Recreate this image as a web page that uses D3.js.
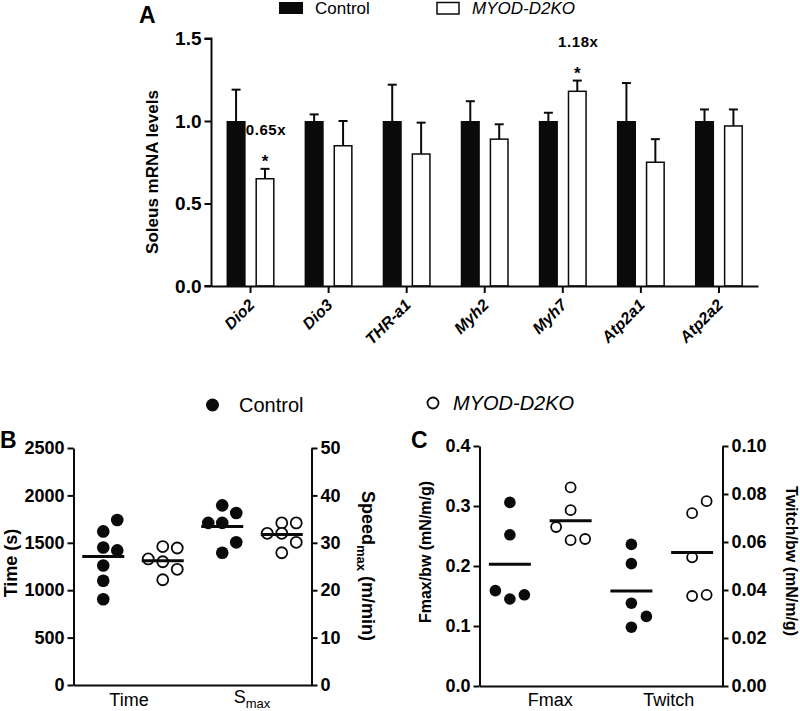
<!DOCTYPE html>
<html>
<head>
<meta charset="utf-8">
<script src="https://cdn.jsdelivr.net/npm/d3@7"></script>
<style>
  html, body { margin: 0; padding: 0; background: #fff; }
  svg { display: block; }
  text { font-family: 'Liberation Sans', Arial, sans-serif; fill: #000; }
</style>
</head>
<body>
<svg id="chart" width="800" height="711"></svg>
<script>
// ---------------- DATA ----------------
// Panel A
const genes = ["Dio2", "Dio3", "THR-a1", "Myh2", "Myh7", "Atp2a1", "Atp2a2"];
const seriesA = ["Control", "MYOD-D2KO"];
const controlMean = [1.0, 1.0, 1.0, 1.0, 1.0, 1.0, 1.0];
const controlErr  = [0.19, 0.04, 0.22, 0.12, 0.05, 0.23, 0.07];
const koMean      = [0.65, 0.85, 0.80, 0.89, 1.18, 0.75, 0.97];
const koErr       = [0.06, 0.15, 0.19, 0.09, 0.065, 0.14, 0.10];
const foldLabels  = [{ gene: "Dio2", text: "0.65x" }, { gene: "Myh7", text: "1.18x" }];
const yTicksA = [0, 0.5, 1.0, 1.5];

// Panel B
const groupsB = ["Time", "Smax"];
const timeControl = [1620, 1740, 1450, 1420, 1260, 1100, 905];
const timeControlCol = [0, 1, 0, 1, 0, 0, 0];
const timeKO = [1460, 1445, 1300, 1330, 1220, 1110];
const timeKOCol = [0, 1, 0, -1, 1, 0];
const smaxControl = [37.9, 36.3, 34.2, 34.2, 30.1, 27.9];
const smaxControlCol = [0, 1, 0, -1, 1, 0];
const smaxKO = [34.2, 34.2, 32.0, 32.0, 30.1, 27.9];
const smaxKOCol = [0, 1, -1, 0, 1, 0];
const yTicksBLeft = [0, 500, 1000, 1500, 2000, 2500];
const yTicksBRight = [0, 10, 20, 30, 40, 50];

// Panel C
const groupsC = ["Fmax", "Twitch"];
const fmaxControl = [0.306, 0.252, 0.159, 0.145, 0.152];
const fmaxControlCol = [0, 0, -1, 0, 1];
const fmaxKO = [0.331, 0.293, 0.265, 0.243, 0.245];
const fmaxKOCol = [0, 0, -1, 0, 1];
const twitchControl = [0.059, 0.051, 0.0345, 0.029, 0.0245];
const twitchControlCol = [0, 0, 0, 1, 0];
const twitchKO = [0.077, 0.072, 0.0536, 0.0375, 0.038];
const twitchKOCol = [1, 0, 0, 0, 1];
const yTicksCLeft = [0, 0.1, 0.2, 0.3, 0.4];
const yTicksCRight = [0, 0.02, 0.04, 0.06, 0.08, 0.10];

// ---------------- DRAW ----------------
const svg = d3.select("#chart");
const INK = "#0a0a0a";
const BOLD = "'Liberation Sans', Arial, sans-serif";

function styleAxis(g, fs) {
  g.select(".domain").attr("stroke", INK).attr("stroke-width", 2);
  g.selectAll(".tick line").attr("stroke", INK).attr("stroke-width", 2);
  g.selectAll(".tick text").attr("font-size", fs).attr("font-weight", "bold")
    .attr("font-family", BOLD).attr("fill", INK);
}

// ===== Panel A =====
const yA = d3.scaleLinear().domain([0, 1.5]).range([286, 38.5]);
const xA = d3.scaleBand().domain(genes).range([211.5, 758]).padding(0);
const xInnerA = d3.scaleBand().domain(seriesA).range([-24, 24]).paddingInner(0.34);

svg.append("text").attr("x", 139).attr("y", 23).attr("font-size", 23)
  .attr("font-weight", "bold").text("A");

// legend A
const legA = svg.append("g");
legA.append("rect").attr("x", 279).attr("y", 2).attr("width", 24).attr("height", 12).attr("fill", INK);
legA.append("text").attr("x", 315).attr("y", 14).attr("font-size", 17).attr("fill", "#222").text("Control");
legA.append("rect").attr("x", 437).attr("y", 2.5).attr("width", 22).attr("height", 11.5)
  .attr("fill", "#fff").attr("stroke", INK).attr("stroke-width", 1.5);
legA.append("text").attr("x", 472).attr("y", 14).attr("font-size", 17).attr("font-style", "italic")
  .attr("fill", "#222").text("MYOD-D2KO");

const rowsA = genes.map((g, i) => ({
  gene: g,
  vals: [
    { s: "Control", v: controlMean[i], e: controlErr[i] },
    { s: "MYOD-D2KO", v: koMean[i], e: koErr[i] }
  ]
}));

const groupsSel = svg.append("g").selectAll("g").data(rowsA).join("g")
  .attr("transform", d => `translate(${xA(d.gene) + xA.bandwidth() / 2},0)`);

// error bars (drawn under bars)
groupsSel.selectAll("g.err").data(d => d.vals).join("g").attr("class", "err").each(function (d) {
  const g = d3.select(this);
  const cx = xInnerA(d.s) + xInnerA.bandwidth() / 2;
  g.append("line").attr("x1", cx).attr("x2", cx).attr("y1", yA(d.v)).attr("y2", yA(d.v + d.e))
    .attr("stroke", INK).attr("stroke-width", 2);
  g.append("line").attr("x1", cx - 4.5).attr("x2", cx + 4.5).attr("y1", yA(d.v + d.e)).attr("y2", yA(d.v + d.e))
    .attr("stroke", INK).attr("stroke-width", 2);
});

groupsSel.selectAll("rect").data(d => d.vals).join("rect")
  .attr("x", d => xInnerA(d.s) + (d.s === "Control" ? 0 : 0.75))
  .attr("width", d => xInnerA.bandwidth() - (d.s === "Control" ? 0 : 1.5))
  .attr("y", d => yA(d.v))
  .attr("height", d => yA(0) - yA(d.v))
  .attr("fill", d => d.s === "Control" ? INK : "#fff")
  .attr("stroke", d => d.s === "Control" ? "none" : INK)
  .attr("stroke-width", 1.5);

// fold-change annotations
foldLabels.forEach(f => {
  const i = genes.indexOf(f.gene);
  const cx = xA(f.gene) + xA.bandwidth() / 2 + xInnerA("MYOD-D2KO") + xInnerA.bandwidth() / 2;
  const top = yA(koMean[i] + koErr[i]);
  svg.append("text").attr("x", cx).attr("y", top - 2).attr("text-anchor", "middle")
    .attr("font-size", 17).attr("font-weight", "bold").text("*");
  svg.append("text").attr("x", cx + 1).attr("y", top - 34).attr("text-anchor", "middle")
    .attr("font-size", 15).attr("font-weight", "bold").attr("letter-spacing", 0.6).text(f.text);
});

// axes A
const axYA = svg.append("g").attr("transform", "translate(211.5,0)")
  .call(d3.axisLeft(yA).tickValues(yTicksA).tickFormat(d3.format(".1f")).tickSize(7).tickPadding(3));
styleAxis(axYA, 19);
axYA.select(".domain").attr("d", `M-7,${yA(1.5)}H0V${yA(0)}H-7`);

const axXA = svg.append("g").attr("transform", `translate(0,${yA(0)})`)
  .call(d3.axisBottom(xA).tickSize(7).tickSizeOuter(0));
axXA.select(".domain").attr("stroke", INK).attr("stroke-width", 2);
axXA.selectAll(".tick line").attr("stroke", INK).attr("stroke-width", 2);
axXA.selectAll(".tick text")
  .attr("font-size", 16).attr("font-weight", "bold").attr("font-style", "italic").attr("fill", INK)
  .attr("text-anchor", "end").attr("dy", 0).attr("y", 0)
  .attr("transform", "translate(5,20) rotate(-45)");

svg.append("text").attr("transform", `translate(158,172) rotate(-90)`).attr("text-anchor", "middle")
  .attr("font-size", 17).attr("font-weight", "bold").text("Soleus mRNA levels");

// ===== shared scatter drawing =====
function drawDots(g, vals, cols, x0, y, filled, r, colStep) {
  g.selectAll(null).data(vals.map((v, i) => ({ v, c: cols[i] }))).join("circle")
    .attr("cx", d => x0 + d.c * colStep)
    .attr("cy", d => y(d.v))
    .attr("r", filled ? r : r - 0.8)
    .attr("fill", filled ? INK : "#fff")
    .attr("stroke", INK).attr("stroke-width", filled ? 0 : 1.8);
  const m = d3.mean(vals);
  g.append("line").attr("x1", x0 - 21).attr("x2", x0 + 21).attr("y1", y(m)).attr("y2", y(m))
    .attr("stroke", INK).attr("stroke-width", 3);
}

// legend B/C
const legB = svg.append("g");
legB.append("circle").attr("cx", 212.5).attr("cy", 405).attr("r", 6.5).attr("fill", INK);
legB.append("text").attr("x", 239).attr("y", 412).attr("font-size", 20).attr("fill", "#222").text("Control");
legB.append("circle").attr("cx", 433).attr("cy", 403).attr("r", 5.5).attr("fill", "#fff")
  .attr("stroke", INK).attr("stroke-width", 1.8);
legB.append("text").attr("x", 453).attr("y", 410).attr("font-size", 20).attr("font-style", "italic")
  .attr("fill", "#222").text("MYOD-D2KO");

// ===== Panel B =====
const yB = d3.scaleLinear().domain([0, 2500]).range([685, 448]);
const yB2 = d3.scaleLinear().domain([0, 50]).range([685, 448]);
const xB = d3.scaleBand().domain(groupsB).range([73.5, 311.5]).padding(0);
const xInnerB = d3.scalePoint().domain(seriesA).range([0, xB.bandwidth()]).padding(0.5);

svg.append("text").attr("x", 0).attr("y", 448).attr("font-size", 23).attr("font-weight", "bold").text("B");

const gB = svg.append("g");
drawDots(gB.append("g"), timeControl, timeControlCol, xB("Time") + xInnerB("Control"), yB, true, 6.3, 14);
drawDots(gB.append("g"), timeKO, timeKOCol, xB("Time") + xInnerB("MYOD-D2KO"), yB, false, 6.3, 14.5);
drawDots(gB.append("g"), smaxControl, smaxControlCol, xB("Smax") + xInnerB("Control"), yB2, true, 6.3, 14);
drawDots(gB.append("g"), smaxKO, smaxKOCol, xB("Smax") + xInnerB("MYOD-D2KO"), yB2, false, 6.3, 14.5);

const axBL = svg.append("g").attr("transform", "translate(73.5,0)")
  .call(d3.axisLeft(yB).tickValues(yTicksBLeft).tickFormat(d3.format("d")).tickSize(6).tickPadding(3).tickSizeOuter(0));
styleAxis(axBL, 18);
const axBR = svg.append("g").attr("transform", "translate(311.5,0)")
  .call(d3.axisRight(yB2).tickValues(yTicksBRight).tickFormat(d3.format("d")).tickSize(6).tickPadding(3).tickSizeOuter(0));
styleAxis(axBR, 18);
const axBB = svg.append("g").attr("transform", `translate(0,${yB(0)})`)
  .call(d3.axisBottom(xB).tickSize(0).tickSizeOuter(0).tickFormat(""));
axBB.select(".domain").attr("stroke", INK).attr("stroke-width", 2);

svg.append("text").attr("x", xB("Time") + xB.bandwidth() / 2 - 4).attr("y", 706).attr("text-anchor", "middle")
  .attr("font-size", 18).attr("fill", "#222").text("Time");
const smaxLbl = svg.append("text").attr("x", xB("Smax") + xB.bandwidth() / 2).attr("y", 703)
  .attr("text-anchor", "middle").attr("font-size", 18).attr("fill", "#222");
smaxLbl.append("tspan").text("S");
smaxLbl.append("tspan").attr("font-size", 13).attr("dy", 5).text("max");

svg.append("text").attr("transform", "translate(17,563) rotate(-90)").attr("text-anchor", "middle")
  .attr("font-size", 18).attr("font-weight", "bold").text("Time (s)");
const spLbl = svg.append("text").attr("transform", "translate(362,566) rotate(90)").attr("text-anchor", "middle")
  .attr("font-size", 18).attr("font-weight", "bold");
spLbl.append("tspan").text("Speed");
spLbl.append("tspan").attr("font-size", 13).attr("dy", 5).text("max");
spLbl.append("tspan").attr("dy", -5).text(" (m/min)");

// ===== Panel C =====
const yC = d3.scaleLinear().domain([0, 0.4]).range([686, 446]);
const yC2 = d3.scaleLinear().domain([0, 0.10]).range([686, 446]);
const xC = d3.scaleBand().domain(groupsC).range([479.5, 722.5]).padding(0);
const xInnerC = d3.scalePoint().domain(seriesA).range([0, xC.bandwidth()]).padding(0.5);

svg.append("text").attr("x", 411).attr("y", 448).attr("font-size", 23).attr("font-weight", "bold").text("C");

const gC = svg.append("g");
drawDots(gC.append("g"), fmaxControl, fmaxControlCol, xC("Fmax") + xInnerC("Control"), yC, true, 5.8, 14.5);
drawDots(gC.append("g"), fmaxKO, fmaxKOCol, xC("Fmax") + xInnerC("MYOD-D2KO"), yC, false, 5.8, 14.5);
drawDots(gC.append("g"), twitchControl, twitchControlCol, xC("Twitch") + xInnerC("Control"), yC2, true, 5.8, 15);
drawDots(gC.append("g"), twitchKO, twitchKOCol, xC("Twitch") + xInnerC("MYOD-D2KO"), yC2, false, 5.8, 14.5);

const axCL = svg.append("g").attr("transform", "translate(479.5,0)")
  .call(d3.axisLeft(yC).tickValues(yTicksCLeft).tickFormat(d3.format(".1f")).tickSize(6).tickPadding(3).tickSizeOuter(0));
styleAxis(axCL, 18);
const axCR = svg.append("g").attr("transform", "translate(722.5,0)")
  .call(d3.axisRight(yC2).tickValues(yTicksCRight).tickFormat(d3.format(".2f")).tickSize(6).tickPadding(3).tickSizeOuter(0));
styleAxis(axCR, 18);
const axCB = svg.append("g").attr("transform", `translate(0,${yC(0)})`)
  .call(d3.axisBottom(xC).tickSize(0).tickSizeOuter(0).tickFormat(""));
axCB.select(".domain").attr("stroke", INK).attr("stroke-width", 2);

groupsC.forEach(gname => {
  svg.append("text").attr("x", xC(gname) + xC.bandwidth() / 2 + (gname === "Fmax" ? 10 : 7)).attr("y", 706)
    .attr("text-anchor", "middle").attr("font-size", 18).attr("fill", "#222").text(gname);
});

svg.append("text").attr("transform", "translate(431,552) rotate(-90)").attr("text-anchor", "middle")
  .attr("font-size", 16).attr("font-weight", "bold").text("Fmax/bw (mN/m/g)");
svg.append("text").attr("transform", "translate(786,561) rotate(90)").attr("text-anchor", "middle")
  .attr("font-size", 16).attr("font-weight", "bold").text("Twitch/bw (mN/m/g)");
</script>
</body>
</html>
